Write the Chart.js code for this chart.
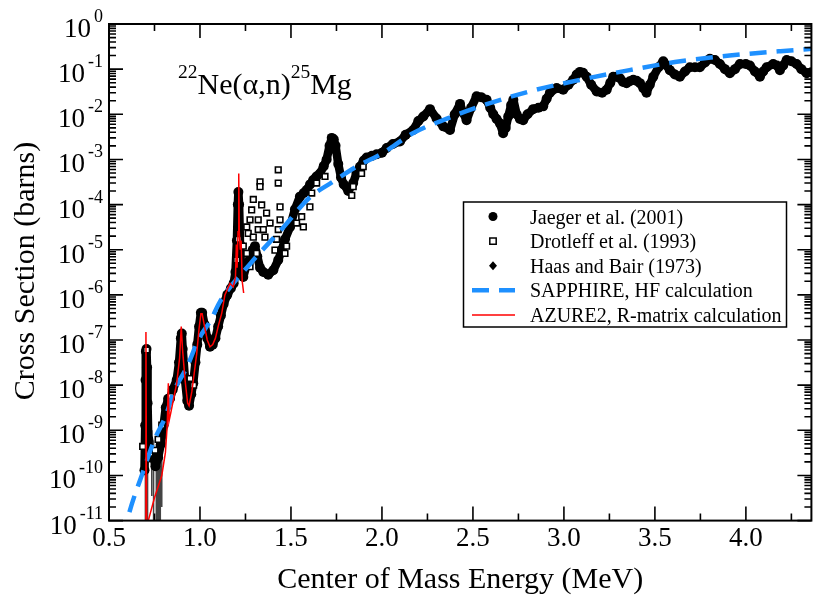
<!DOCTYPE html>
<html>
<head>
<meta charset="utf-8">
<script src="https://cdn.jsdelivr.net/npm/chart.js@4/dist/chart.umd.min.js"></script>
<style>
    body { margin: 0; background: #fff; }
    #wrap { width: 817px; height: 607px; }
</style>
</head>
<body>
<div id="wrap"><canvas id="crossSection"></canvas></div>
<script>
// centre of mass energy (MeV) and cross section (barns)
const jaegerE = [
    0.695, 0.699, 0.701, 0.703, 0.706, 0.709, 0.712, 0.716, 0.725, 0.74,
    0.755, 0.77, 0.785, 0.80, 0.812, 0.825, 0.835, 0.85, 0.872, 0.885,
    0.895, 0.90, 0.905, 0.918, 0.93, 0.94, 0.952, 0.963, 0.975, 0.985,
    0.995, 1.005, 1.012, 1.025, 1.04, 1.055, 1.07, 1.085, 1.10, 1.115,
    1.13, 1.15, 1.17, 1.185, 1.195, 1.203, 1.208, 1.211, 1.215, 1.22,
    1.228, 1.238, 1.255, 1.275, 1.29, 1.302, 1.315, 1.33, 1.348, 1.375,
    1.403, 1.43, 1.45, 1.467, 1.495, 1.522, 1.549, 1.57, 1.586, 1.605,
    1.622, 1.64, 1.659, 1.68, 1.696, 1.712, 1.724, 1.735, 1.745, 1.76,
    1.775, 1.79, 1.815, 1.842, 1.86, 1.879, 1.90, 1.916, 1.945, 1.971,
    2.00, 2.026, 2.06, 2.099, 2.13, 2.172, 2.20, 2.227, 2.264, 2.30,
    2.337, 2.374, 2.40, 2.429, 2.445, 2.465, 2.49, 2.52, 2.545, 2.575,
    2.595, 2.612, 2.63, 2.648, 2.666, 2.68, 2.694, 2.71, 2.722, 2.74,
    2.758, 2.776, 2.80, 2.831, 2.86, 2.886, 2.905, 2.923, 2.96, 2.996,
    3.025, 3.051, 3.07, 3.088, 3.105, 3.125, 3.15, 3.18, 3.21, 3.235,
    3.255, 3.271, 3.29, 3.308, 3.325, 3.344, 3.362, 3.381, 3.40, 3.418,
    3.436, 3.454, 3.472, 3.491, 3.52, 3.546, 3.565, 3.582, 3.61, 3.637,
    3.665, 3.692, 3.72, 3.747, 3.775, 3.802, 3.83, 3.857, 3.885, 3.912,
    3.94, 3.967, 4.00, 4.022, 4.05, 4.077, 4.095, 4.114, 4.15, 4.17,
    4.187, 4.205, 4.224, 4.25, 4.279, 4.305, 4.334, 4.36
];
const jaegerSigma = [
    1.3e-10, 1.3e-9, 1.3e-8, 5.6e-8, 6.3e-8, 2.5e-8, 4.0e-9, 6.3e-10, 2.5e-10, 3.2e-10,
    1.6e-10, 2.5e-10, 5.0e-10, 1.3e-9, 3.2e-9, 5.0e-9, 5.0e-9, 7.9e-9, 1.3e-8, 3.2e-8,
    1.1e-7, 1.4e-7, 6.3e-8, 1.3e-8, 4.5e-9, 3.5e-9, 6.3e-9, 1.1e-8, 3.2e-8, 7.9e-8,
    2.0e-7, 4.0e-7, 4.0e-7, 2.2e-7, 1.1e-7, 7.1e-8, 7.9e-8, 1.1e-7, 2.0e-7, 3.5e-7,
    6.3e-7, 1.0e-6, 1.4e-6, 1.8e-6, 3.2e-6, 1.6e-5, 1.0e-4, 1.9e-4, 1.0e-4, 1.3e-5,
    2.8e-6, 2.5e-6, 4.5e-6, 6.3e-6, 1.0e-5, 1.2e-5, 7.1e-6, 4.0e-6, 3.2e-6, 2.8e-6,
    3.5e-6, 5.9e-6, 1.0e-5, 1.7e-5, 3.2e-5, 7.9e-5, 1.5e-4, 1.8e-4, 2.1e-4, 2.8e-4,
    3.5e-4, 4.2e-4, 4.9e-4, 7.1e-4, 1.0e-3, 2.0e-3, 3.0e-3, 2.8e-3, 2.0e-3, 7.9e-4,
    4.0e-4, 2.8e-4, 2.0e-4, 3.0e-4, 5.0e-4, 6.9e-4, 9.5e-4, 1.1e-3, 1.2e-3, 1.3e-3,
    1.4e-3, 1.8e-3, 2.2e-3, 2.5e-3, 3.5e-3, 4.5e-3, 7.1e-3, 8.9e-3, 1.3e-2, 8.1e-3,
    5.4e-3, 4.5e-3, 1.0e-2, 1.7e-2, 1.1e-2, 7.4e-3, 1.4e-2, 2.5e-2, 2.4e-2, 2.1e-2,
    1.4e-2, 1.0e-2, 7.9e-3, 6.3e-3, 3.8e-3, 5.0e-3, 8.9e-3, 1.6e-2, 2.1e-2, 1.0e-2,
    7.9e-3, 7.4e-3, 1.0e-2, 1.3e-2, 1.4e-2, 1.5e-2, 2.2e-2, 3.0e-2, 3.8e-2, 3.5e-2,
    4.5e-2, 5.8e-2, 7.6e-2, 8.7e-2, 8.3e-2, 6.8e-2, 4.5e-2, 3.2e-2, 3.0e-2, 3.5e-2,
    5.0e-2, 6.8e-2, 6.8e-2, 6.3e-2, 5.2e-2, 4.9e-2, 5.4e-2, 5.8e-2, 5.5e-2, 4.9e-2,
    3.8e-2, 3.0e-2, 4.5e-2, 6.8e-2, 0.11, 0.15, 0.12, 9.5e-2, 7.6e-2, 6.8e-2,
    8.9e-2, 0.11, 0.11, 0.11, 0.14, 0.17, 0.16, 0.13, 0.10, 8.1e-2,
    0.10, 0.13, 0.13, 0.12, 8.9e-2, 6.8e-2, 8.9e-2, 0.11, 0.13, 0.12,
    9.5e-2, 0.12, 0.16, 0.15, 0.13, 0.10, 8.1e-2, 8.5e-2
];

const drotleffE = [
    0.685, 0.707, 0.725, 0.753, 0.77, 0.79, 0.84, 0.945, 0.965, 1.202,
    1.211, 1.238, 1.257, 1.257, 1.265, 1.275, 1.275, 1.284, 1.293, 1.293,
    1.311, 1.32, 1.32, 1.33, 1.33, 1.339, 1.348, 1.357, 1.366, 1.385,
    1.412, 1.421, 1.43, 1.43, 1.43, 1.44, 1.44, 1.467, 1.476, 1.531,
    1.559, 1.568, 1.604, 1.614, 1.641, 1.687, 1.834, 1.842, 1.888, 1.897
];
const drotleffSigma = [
    4.4e-10, 6.0e-8, 3.1e-10, 3.6e-10, 6.3e-10, 1.3e-9, 5.6e-9, 1.4e-8, 1.0e-8, 5.9e-6,
    1.7e-5, 1.2e-5, 3.2e-5, 8.3e-6, 2.3e-5, 4.6e-5, 4.2e-6, 7.6e-5, 1.3e-4, 1.9e-5,
    8.3e-6, 4.6e-5, 2.8e-5, 3.2e-4, 2.5e-4, 9.8e-5, 2.8e-5, 1.9e-5, 6.5e-5, 3.9e-5,
    9.8e-6, 1.7e-5, 5.9e-4, 3.0e-4, 2.8e-5, 8.9e-5, 4.6e-5, 8.3e-6, 1.2e-5, 3.9e-5,
    5.4e-5, 3.2e-5, 8.9e-5, 1.8e-4, 3.0e-4, 4.2e-4, 1.6e-4, 2.5e-4, 4.9e-4, 6.9e-4
];

const haasE = [1.95, 1.98, 2.02, 2.06, 2.10, 2.14, 2.18, 2.22];
const haasSigma = [1.2e-3, 1.3e-3, 1.7e-3, 2.1e-3, 2.6e-3, 3.6e-3, 4.6e-3, 8.5e-3];

// error bars of the lowest-energy points (low / high ends)
const errE = [0.700, 0.712, 0.735, 0.745, 0.760, 0.768, 0.775, 0.782, 0.790];
const errLow = [1e-12, 1e-12, 3.5e-11, 1e-12, 1e-12, 1e-12, 1e-12, 1e-12, 2e-11];
const errHigh = [2e-10, 1e-9, 1e-9, 6e-10, 5e-10, 8e-10, 4e-10, 1e-9, 2e-9];

const sapphireE = [
    0.58, 0.60, 0.69, 0.75, 0.81, 0.86, 0.93, 0.99, 1.06, 1.11,
    1.28, 1.46, 1.60, 1.73, 1.86, 2.00, 2.17, 2.36, 2.54, 2.81,
    3.09, 3.36, 3.64, 3.91, 4.19, 4.40
];
const sapphireSigma = [
    4.0e-12, 1.0e-11, 1.3e-10, 6.2e-10, 2.0e-9, 7.8e-9, 2.6e-8, 1.0e-7, 2.8e-7, 7.1e-7,
    5.1e-6, 3.2e-5, 1.4e-4, 3.2e-4, 6.9e-4, 1.35e-3, 3.8e-3, 8.1e-3, 1.5e-2, 3.2e-2,
    5.8e-2, 9.5e-2, 0.15, 0.20, 0.25, 0.29
];

const azureE = [
    0.699, 0.703, 0.707, 0.716, 0.75, 0.79, 0.81, 0.82, 0.826, 0.83,
    0.84, 0.855, 0.872, 0.888, 0.897, 0.90, 0.904, 0.918, 0.932, 0.94,
    0.955, 0.968, 0.982, 0.995, 1.005, 1.012, 1.025, 1.04, 1.055, 1.07,
    1.085, 1.10, 1.12, 1.137, 1.165, 1.183, 1.195, 1.20, 1.204, 1.209,
    1.213, 1.216, 1.221, 1.226, 1.232, 1.24
];
const azureSigma = [
    3.2e-12, 1.5e-7, 3.2e-12, 1.0e-11, 3.2e-11, 1.0e-10, 3.2e-10, 1.3e-9, 1.1e-8, 1.6e-9,
    2.5e-9, 5.0e-9, 1.1e-8, 4.0e-8, 2.0e-7, 2.0e-7, 6.3e-8, 1.3e-8, 4.0e-9, 3.5e-9,
    7.1e-9, 1.8e-8, 5.0e-8, 1.8e-7, 3.8e-7, 3.8e-7, 2.0e-7, 1.0e-7, 7.1e-8, 7.9e-8,
    1.1e-7, 2.0e-7, 4.0e-7, 1.0e-6, 1.8e-6, 1.5e-6, 2.5e-6, 1.3e-5, 4.0e-6, 2.5e-5,
    4.9e-4, 2.5e-5, 1.0e-5, 1.6e-5, 2.0e-6, 1.1e-6
];

// axis ticks
const xMajorTicks = [0.5, 1.0, 1.5, 2.0, 2.5, 3.0, 3.5, 4.0];
const xMinorTicks = [0.75, 1.25, 1.75, 2.25, 2.75, 3.25, 3.75, 4.25];
const yDecades = [0, -1, -2, -3, -4, -5, -6, -7, -8, -9, -10, -11];

const SERIF = '"Liberation Serif", "Times New Roman", serif';
const BLUE = 'rgb(30, 144, 255)';

function toPoints(xs, ys) {
    return xs.map((x, i) => ({x: x, y: ys[i]}));
}

function errorSegments() {
    let pts = [];
    errE.forEach((e, i) => {
        pts.push({x: e, y: errLow[i]});
        pts.push({x: e, y: errHigh[i]});
        pts.push({x: e, y: null});
    });
    return pts;
}

// legend rows: dataset index and symbol kind
const legendRows = [
    {index: 4, kind: 'circle'},
    {index: 3, kind: 'square'},
    {index: 2, kind: 'diamond'},
    {index: 1, kind: 'line'},
    {index: 0, kind: 'line'}
];

const decorations = {
    id: 'decorations',
    afterDraw(chart) {
        const {ctx, chartArea: a, scales: {x, y}} = chart;
        ctx.save();

        // frame with inward ticks on all four sides
        ctx.strokeStyle = '#000';
        ctx.lineWidth = 2;
        ctx.strokeRect(a.left, a.top, a.right - a.left, a.bottom - a.top);
        ctx.lineWidth = 1.6;
        ctx.beginPath();
        const xTick = (v, len) => {
            const px = x.getPixelForValue(v);
            ctx.moveTo(px, a.bottom); ctx.lineTo(px, a.bottom - len);
            ctx.moveTo(px, a.top); ctx.lineTo(px, a.top + len);
        };
        const yTick = (v, len) => {
            const py = y.getPixelForValue(v);
            ctx.moveTo(a.left, py); ctx.lineTo(a.left + len, py);
            ctx.moveTo(a.right, py); ctx.lineTo(a.right - len, py);
        };
        xMajorTicks.forEach(v => xTick(v, 14));
        xMinorTicks.forEach(v => xTick(v, 7));
        yDecades.forEach(e => {
            yTick(Math.pow(10, e), 14);
            if (e > -11) {
                for (let m = 2; m <= 9; m++) yTick(m * Math.pow(10, e - 1), 7);
            }
        });
        ctx.stroke();

        // y tick labels 10^n
        ctx.fillStyle = '#000';
        ctx.textAlign = 'right';
        ctx.textBaseline = 'alphabetic';
        yDecades.forEach(e => {
            const py = y.getPixelForValue(Math.pow(10, e));
            const exp = String(e);
            ctx.font = '18px ' + SERIF;
            const w = ctx.measureText(exp).width;
            ctx.fillText(exp, 103, py - 2);
            ctx.font = '27px ' + SERIF;
            ctx.fillText('10', 103 - w - 3, py + 13);
        });

        // y axis title
        ctx.save();
        ctx.translate(34, 271);
        ctx.rotate(-Math.PI / 2);
        ctx.textAlign = 'center';
        ctx.font = '30px ' + SERIF;
        ctx.fillText('Cross Section (barns)', 0, 0);
        ctx.restore();

        // reaction label
        const parts = [['22', 19.5, 78], ['Ne(\u03b1,n)', 30, 94], ['25', 19.5, 78], ['Mg', 30, 94]];
        let tx = 178;
        ctx.textAlign = 'left';
        parts.forEach(([t, size, base]) => {
            ctx.font = size + 'px ' + SERIF;
            ctx.fillText(t, tx, base);
            tx += ctx.measureText(t).width;
        });

        // legend box
        const box = {left: 463.5, top: 202, right: 786.5, bottom: 327};
        ctx.fillStyle = '#fff';
        ctx.fillRect(box.left, box.top, box.right - box.left, box.bottom - box.top);
        ctx.lineWidth = 1.5;
        ctx.strokeStyle = '#000';
        ctx.strokeRect(box.left, box.top, box.right - box.left, box.bottom - box.top);

        legendRows.forEach((row, r) => {
            const ds = chart.data.datasets[row.index];
            const cy = 216.5 + r * 24.6;
            const cx = 493;
            ctx.save();
            ctx.beginPath();
            if (row.kind === 'line') {
                ctx.strokeStyle = ds.borderColor;
                ctx.lineWidth = ds.borderWidth;
                ctx.setLineDash(ds.borderDash || []);
                ctx.moveTo(472, cy);
                ctx.lineTo(515, cy);
                ctx.stroke();
            } else if (row.kind === 'circle') {
                ctx.fillStyle = '#000';
                ctx.arc(cx, cy, 4.5, 0, Math.PI * 2);
                ctx.fill();
            } else if (row.kind === 'square') {
                ctx.fillStyle = '#fff';
                ctx.strokeStyle = '#000';
                ctx.lineWidth = 1.5;
                ctx.rect(cx - 3.2, cy - 3.2, 6.4, 6.4);
                ctx.fill();
                ctx.stroke();
            } else {
                ctx.fillStyle = '#000';
                ctx.moveTo(cx, cy - 4.5); ctx.lineTo(cx + 4, cy);
                ctx.lineTo(cx, cy + 4.5); ctx.lineTo(cx - 4, cy);
                ctx.closePath();
                ctx.fill();
            }
            ctx.restore();
            ctx.fillStyle = '#000';
            ctx.font = '20px ' + SERIF;
            ctx.textAlign = 'left';
            ctx.fillText(ds.label, 530, cy + 7);
        });

        ctx.restore();
    }
};

Chart.defaults.font.family = SERIF;
Chart.defaults.color = '#000';

new Chart(document.getElementById('crossSection'), {
    type: 'scatter',
    data: {
        datasets: [{
            label: 'AZURE2, R-matrix calculation',
            data: toPoints(azureE, azureSigma),
            showLine: true,
            borderColor: 'rgb(255, 0, 0)',
            borderWidth: 1.5,
            pointRadius: 0,
            tension: 0,
            clip: 0
        }, {
            label: 'SAPPHIRE, HF calculation',
            data: toPoints(sapphireE, sapphireSigma),
            showLine: true,
            borderColor: BLUE,
            borderWidth: 4.5,
            borderDash: [17, 10],
            pointRadius: 0,
            cubicInterpolationMode: 'monotone',
            clip: 0
        }, {
            label: 'Haas and Bair (1973)',
            data: toPoints(haasE, haasSigma),
            pointStyle: 'rectRot',
            pointRadius: 4,
            pointBorderWidth: 0,
            pointBackgroundColor: '#000',
            pointBorderColor: '#000',
            clip: 0
        }, {
            label: 'Drotleff et al. (1993)',
            data: toPoints(drotleffE, drotleffSigma),
            pointStyle: 'rect',
            pointRadius: 4,
            pointBorderWidth: 1.6,
            pointBackgroundColor: '#fff',
            pointBorderColor: '#000',
            clip: 0
        }, {
            label: 'Jaeger et al. (2001)',
            data: toPoints(jaegerE, jaegerSigma),
            showLine: true,
            borderColor: '#000',
            borderWidth: 8.5,
            borderJoinStyle: 'round',
            borderCapStyle: 'round',
            tension: 0,
            pointStyle: 'circle',
            pointRadius: 5,
            pointBorderWidth: 0,
            pointBackgroundColor: '#000',
            pointBorderColor: '#000',
            clip: 0
        }, {
            label: 'errors',
            data: errorSegments(),
            showLine: true,
            spanGaps: false,
            borderColor: '#444',
            borderWidth: 1.5,
            pointRadius: 0,
            clip: 0
        }]
    },
    options: {
        responsive: true,
        maintainAspectRatio: false,
        animation: false,
        events: [],
        layout: {padding: {left: 109, right: 5, top: 24, bottom: 9}},
        scales: {
            x: {
                type: 'linear',
                min: 0.5,
                max: 4.36,
                grid: {display: false, drawTicks: false},
                border: {display: false},
                ticks: {
                    stepSize: 0.5,
                    includeBounds: false,
                    autoSkip: false,
                    maxRotation: 0,
                    padding: 2,
                    font: {size: 27},
                    callback: v => Number(v).toFixed(1)
                },
                title: {
                    display: true,
                    text: 'Center of Mass Energy (MeV)',
                    font: {size: 30},
                    padding: {top: 5, bottom: 0}
                }
            },
            y: {
                type: 'logarithmic',
                min: 1e-11,
                max: 1,
                display: false
            }
        },
        plugins: {
            legend: {display: false},
            tooltip: {enabled: false}
        }
    },
    plugins: [decorations]
});
</script>
</body>
</html>
